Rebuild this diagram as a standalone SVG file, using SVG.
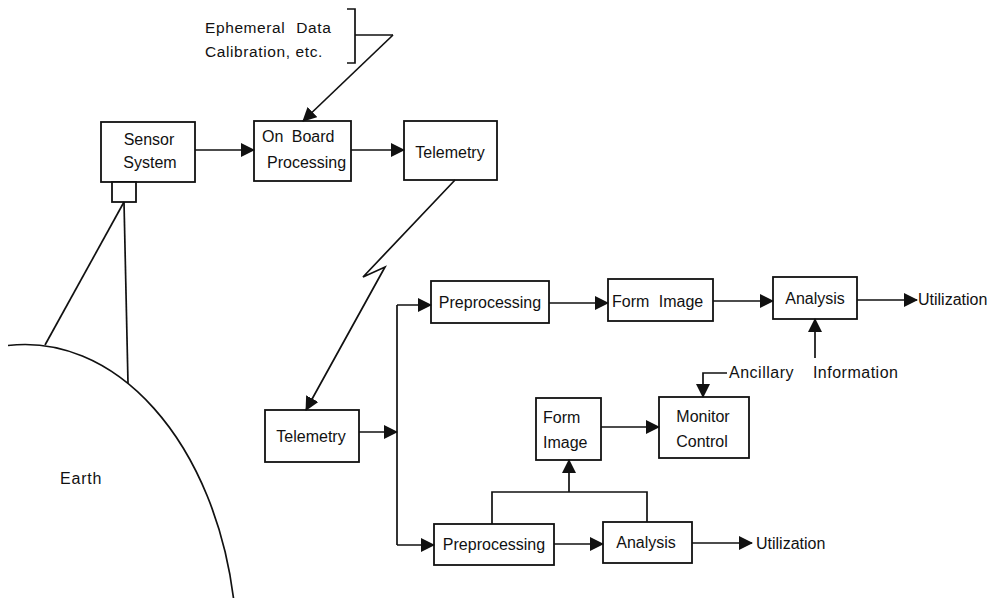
<svg xmlns="http://www.w3.org/2000/svg" width="998" height="598" viewBox="0 0 998 598">
<style>
.box{fill:#fff;stroke:#111;stroke-width:1.8}
.ln{fill:none;stroke:#111;stroke-width:1.7}
.arr{fill:none;stroke:#111;stroke-width:1.7;marker-end:url(#ah)}
text{font-family:"Liberation Sans",Arial,sans-serif;font-size:16px;fill:#111}
.sm{font-size:15.5px;letter-spacing:0.6px}
.c{text-anchor:middle}
</style>
<defs>
<marker id="ah" viewBox="0 0 14 14" refX="13" refY="7" markerWidth="14" markerHeight="14" markerUnits="userSpaceOnUse" orient="auto">
<path d="M0,0 L14,7 L0,14 z" fill="#111"/>
</marker>
</defs>
<rect width="998" height="598" fill="#fff"/>

<g id="earth">
<path class="ln" d="M8,345.5 A212,310 0 0 1 233.5,598"/>
<text x="60" y="484" letter-spacing="0.8">Earth</text>
</g>

<g id="ephemeral">
<text class="sm" x="205" y="33" word-spacing="6">Ephemeral Data</text>
<text class="sm" x="205" y="57">Calibration, etc.</text>
<path class="ln" d="M347,9 H355 V63 H347 M355,35 H393"/>
</g>

<g id="sensor">
<rect class="box" x="101" y="122" width="94" height="60"/>
<rect class="box" x="112" y="182" width="24" height="20"/>
<text class="c" x="149" y="145">Sensor</text>
<text class="c" x="150" y="168">System</text>
</g>

<g id="onboard">
<rect class="box" x="254" y="121" width="97" height="60"/>
<text x="262" y="142" word-spacing="4">On Board</text>
<text x="267" y="168">Processing</text>
</g>

<g id="telemetry1">
<rect class="box" x="404" y="121" width="93" height="59"/>
<text class="c" x="450" y="158">Telemetry</text>
</g>

<g id="telemetry2">
<rect class="box" x="265" y="410" width="94" height="52"/>
<text class="c" x="311" y="442">Telemetry</text>
</g>

<g id="preproc1">
<rect class="box" x="431" y="281" width="118" height="42"/>
<text class="c" x="490" y="308">Preprocessing</text>
</g>

<g id="formimage1">
<rect class="box" x="608" y="279" width="105" height="42"/>
<text x="612" y="307" word-spacing="5">Form Image</text>
</g>

<g id="analysis1">
<rect class="box" x="773" y="277" width="84" height="42"/>
<text class="c" x="815" y="304">Analysis</text>
</g>

<g id="utilization1">
<text x="918" y="305">Utilization</text>
</g>

<g id="ancillary">
<text x="729" y="378" word-spacing="14" letter-spacing="0.5">Ancillary Information</text>
</g>

<g id="formimage2">
<rect class="box" x="536" y="398" width="65" height="62"/>
<text x="543" y="423">Form</text>
<text x="543" y="448">Image</text>
</g>

<g id="monitor">
<rect class="box" x="659" y="397" width="90" height="61"/>
<text class="c" x="703" y="422">Monitor</text>
<text class="c" x="702" y="447">Control</text>
</g>

<g id="preproc2">
<rect class="box" x="434" y="524" width="120" height="41"/>
<text class="c" x="494" y="550">Preprocessing</text>
</g>

<g id="analysis2">
<rect class="box" x="603" y="522" width="89" height="41"/>
<text class="c" x="646" y="548">Analysis</text>
</g>

<g id="utilization2">
<text x="756" y="549">Utilization</text>
</g>

<g id="connectors">
<path class="ln" d="M124,202 L45,345"/>
<path class="ln" d="M124,202 L128,383"/>
<path class="arr" d="M393,35 L303,121"/>
<path class="arr" d="M195,150 H254"/>
<path class="arr" d="M351,150 H404"/>
<path class="arr" d="M455,180 L363,277 L385,267 L306,410"/>
<path class="arr" d="M359,432 H397"/>
<path class="ln" d="M397,305 V545"/>
<path class="arr" d="M397,305 H431"/>
<path class="arr" d="M397,545 H434"/>
<path class="arr" d="M549,303 H608"/>
<path class="arr" d="M713,301 H773"/>
<path class="arr" d="M857,300 H917"/>
<path class="arr" d="M815,358 V319"/>
<path class="arr" d="M727,373 H703 V397"/>
<path class="arr" d="M601,427 H659"/>
<path class="arr" d="M554,544 H603"/>
<path class="arr" d="M692,543 H752"/>
<path class="ln" d="M492,524 V492 H647 V522"/>
<path class="arr" d="M569,492 V460"/>
</g>
</svg>
